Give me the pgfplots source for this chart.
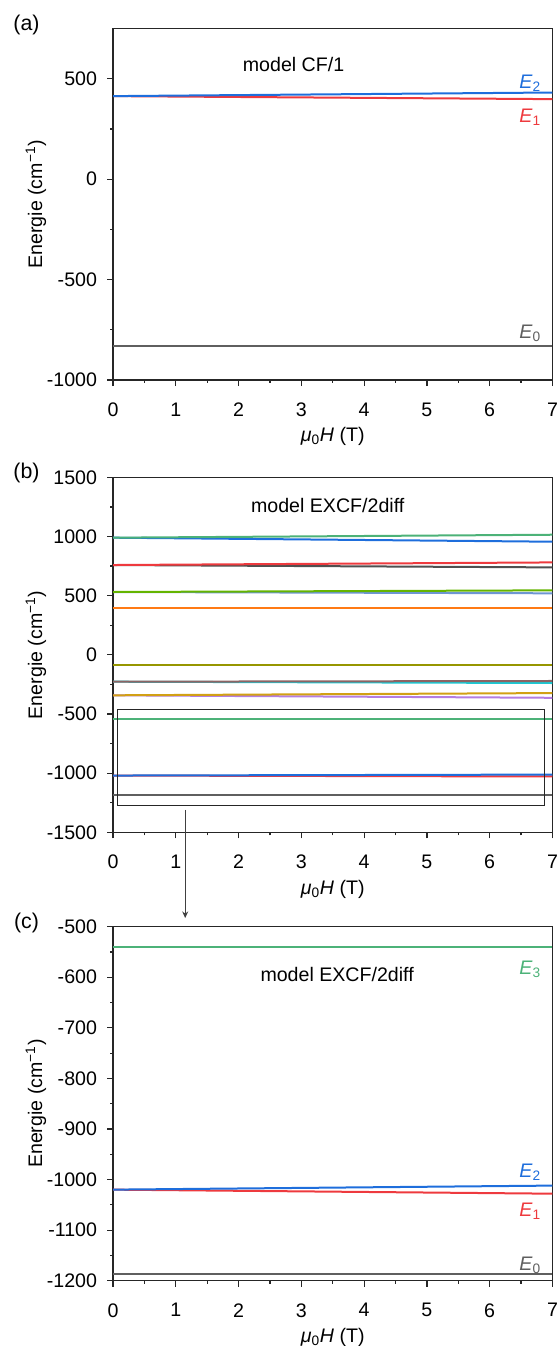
\documentclass[border=0pt]{standalone}
\usepackage{fontspec}
\setmainfont{Liberation Sans}
\usepackage{pgfplots}
\pgfplotsset{compat=1.18}
\usetikzlibrary{arrows.meta}

\definecolor{cgray}{RGB}{95,95,95}
\definecolor{cdark}{RGB}{80,80,80}
\definecolor{cred}{RGB}{238,58,62}
\definecolor{cblue}{RGB}{30,110,220}
\definecolor{cgreen}{RGB}{76,178,120}
\definecolor{cpurple}{RGB}{180,125,225}
\definecolor{cgold}{RGB}{210,160,20}
\definecolor{ccyan}{RGB}{30,200,210}
\definecolor{cbrown}{RGB}{140,100,100}
\definecolor{colive}{RGB}{150,150,0}
\definecolor{corange}{RGB}{255,122,20}
\definecolor{csteel}{RGB}{110,150,210}
\definecolor{clime}{RGB}{100,180,0}

\tikzset{elabel/.style={anchor=east, font=\fontsize{14.7}{17}\selectfont}}

\pgfplotsset{
  levels/.style={
    scale only axis,
    width=329.6pt,
    xmin=0, xmax=7,
    xtick={0,...,7},
    minor x tick num=1,
    minor y tick num=1,
    tick align=outside,
    xtick pos=bottom,
    ytick pos=left,
    major tick length=4.5pt,
    minor tick length=2.2pt,
    axis line style={black!85, line width=0.9pt},
    every tick/.style={black!85, line width=0.9pt},
    font=\fontsize{14.7}{17}\selectfont,
    xticklabel style={yshift=-9pt},
    yticklabel style={xshift=-4pt},
    /pgf/number format/assume math mode=true,
    /pgf/number format/1000 sep={},
    xlabel={\textit{μ}\textsubscript{0}\textit{H} (T)},
    ylabel={Energie (cm\textsuperscript{−1})},
    xlabel style={at={(axis description cs:0.5,0)}, anchor=center, yshift=-42.5pt},
    ylabel style={at={(axis description cs:-0.1752,0.5)}, anchor=center},
    every axis plot/.append style={line width=1.5pt, no markers},
  },
}

\begin{document}
\begin{tikzpicture}
\useasboundingbox (0,0) rectangle (418.5pt,-1009.5pt);

% ---------------- (a) model CF/1 ----------------
\begin{axis}[levels,
  at={(84.75pt,-21.5pt)}, anchor=north west, height=263.5pt,
  ymin=-1000, ymax=750, ytick={-1000,-500,0,500}]
\addplot[cgray] coordinates {(0,-832) (7,-832)};
\addplot[cred]  coordinates {(0,414) (7,399)};
\addplot[cblue] coordinates {(0,414) (7,432)};
\node at (axis cs:2.876,570) {model CF/1};
\node[elabel, text=cblue] at (axis cs:6.89,480) {\textit{E}\textsubscript{2}};
\node[elabel, text=cred]  at (axis cs:6.89,310) {\textit{E}\textsubscript{1}};
\node[elabel, text=cgray] at (axis cs:6.89,-766) {\textit{E}\textsubscript{0}};
\end{axis}

% ---------------- (b) model EXCF/2diff ----------------
\begin{axis}[levels,
  at={(84.75pt,-358pt)}, anchor=north west, height=266.25pt,
  ymin=-1500, ymax=1500, ytick={-1500,-1000,...,1500}]
\addplot[cgray]   coordinates {(0,-1185) (7,-1185)};
\addplot[cred]    coordinates {(0,-1020) (7,-1028)};
\addplot[cblue]   coordinates {(0,-1020) (7,-1012)};
\addplot[cgreen]  coordinates {(0,-543) (7,-543)};
\addplot[cpurple] coordinates {(0,-342) (7,-363)};
\addplot[cgold]   coordinates {(0,-342) (7,-323)};
\addplot[ccyan]   coordinates {(0,-227) (7,-238)};
\addplot[cbrown]  coordinates {(0,-227) (7,-221)};
\addplot[colive]  coordinates {(0,-83) (7,-83)};
\addplot[corange] coordinates {(0,398) (7,398)};
\addplot[csteel]  coordinates {(0,531) (7,520)};
\addplot[clime]   coordinates {(0,531) (7,545)};
\addplot[cdark]   coordinates {(0,759) (7,739)};
\addplot[cred]    coordinates {(0,759) (7,781)};
\addplot[cblue]   coordinates {(0,990) (7,956)};
\addplot[cgreen]  coordinates {(0,990) (7,1015)};
\draw[black!85, line width=0.8pt] (axis cs:0.075,-460) rectangle (axis cs:6.87,-1275);
\coordinate (zoomfrom) at (axis cs:1.15,-1311);
\node at (axis cs:3.42,1266) {model EXCF/2diff};
\end{axis}

% ---------------- (c) model EXCF/2diff, low-lying levels ----------------
\begin{axis}[levels,
  at={(84.75pt,-695pt)}, anchor=north west, height=265.5pt,
  ymin=-1200, ymax=-500, ytick={-1200,-1100,...,-500}]
\addplot[cgray]  coordinates {(0,-1187) (7,-1187)};
\addplot[cred]   coordinates {(0,-1020) (7,-1028)};
\addplot[cblue]  coordinates {(0,-1020) (7,-1012)};
\addplot[cgreen] coordinates {(0,-541) (7,-541)};
\coordinate (zoomto) at (axis cs:1.15,-483);
\node at (axis cs:3.57,-595.5) {model EXCF/2diff};
\node[elabel, text=cgreen] at (axis cs:6.89,-583.6) {\textit{E}\textsubscript{3}};
\node[elabel, text=cblue]  at (axis cs:6.89,-986) {\textit{E}\textsubscript{2}};
\node[elabel, text=cred]   at (axis cs:6.89,-1062) {\textit{E}\textsubscript{1}};
\node[elabel, text=cgray]  at (axis cs:6.89,-1170.5) {\textit{E}\textsubscript{0}};
\end{axis}

\draw[black!75, line width=0.8pt, -{Stealth[length=5pt,width=4.5pt]}] (zoomfrom) -- (zoomto);

\node[font=\fontsize{16}{18}\selectfont] at (19.9pt,-18.5pt) {(a)};
\node[font=\fontsize{16}{18}\selectfont] at (19.9pt,-354.75pt) {(b)};
\node[font=\fontsize{16}{18}\selectfont] at (19.9pt,-692pt) {(c)};
\end{tikzpicture}
\end{document}
